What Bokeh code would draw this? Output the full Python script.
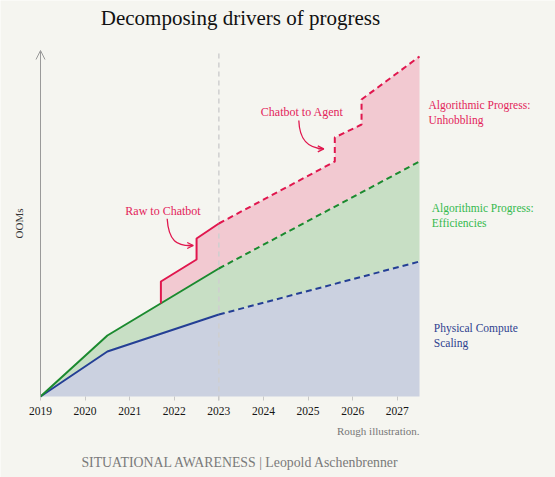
import math

from bokeh.plotting import figure
from bokeh.models import Range1d, FixedTicker, Label, Arrow, OpenHead
from bokeh.embed import file_html
from bokeh.resources import INLINE

# --- data (OOMs, rough illustration) ---------------------------------------
years = [2019, 2020.5, 2023, 2027.5]
compute = [0, 4.5, 8.2, 13.5]          # physical compute scaling
efficiencies = [0, 6.1, 12.8, 23.5]    # compute + algorithmic efficiencies
unhob_x = [2021.7, 2021.7, 2022.5, 2022.5, 2023.0, 2025.6, 2025.6, 2026.2, 2026.2, 2027.5]
unhob_y = [9.3, 11.5, 13.7, 15.8, 17.3, 23.5, 25.9, 27.2, 29.7, 34.0]
tick_years = list(range(2019, 2028))
split_year = 2023                      # history (solid) vs. projection (dashed)
axis_top = 34.6                        # tip of the OOMs arrow

FONT = "Liberation Serif"
BG = "#f5f5f0"
RED, RED_FILL, RED_TEXT = "#e0174e", "#f2c9d1", "#e3245a"
GREEN, GREEN_FILL, GREEN_TEXT = "#1b8a2f", "#c8dfc5", "#34b94d"
BLUE, BLUE_FILL, BLUE_TEXT = "#243f95", "#cbd1e0", "#2e3f8f"

# the frame covers the whole canvas; the x axis is pinned at OOMs = 0
W, H = 555, 477
PX_PER_YEAR, PX_PER_OOM = 44.59, 10.0
LEFT_PAD, BASE_PX = 40, 396
x0 = years[0] - LEFT_PAD / PX_PER_YEAR
x1 = x0 + W / PX_PER_YEAR
y1 = BASE_PX / PX_PER_OOM
y0 = y1 - H / PX_PER_OOM

p = figure(width=W, height=H, output_backend="svg", toolbar_location=None,
           x_range=Range1d(x0, x1), y_range=Range1d(y0, y1),
           min_border=0)
p.background_fill_color = BG
p.border_fill_color = BG
p.outline_line_color = None
p.grid.visible = False
p.yaxis.visible = False

xa = p.xaxis[0]
xa.fixed_location = 0
xa.ticker = FixedTicker(ticks=tick_years)
xa.axis_line_color = None
xa.major_tick_line_color = "#c8c8c8"
xa.major_tick_in = 0
xa.major_tick_out = 4
xa.minor_tick_line_color = None
xa.major_label_standoff = 6
xa.major_label_text_font = FONT
xa.major_label_text_font_size = "11.5px"
xa.major_label_text_color = "#151515"

# --- stacked bands -----------------------------------------------------------
p.patch(years + [years[-1], years[0]], compute + [0, 0],
        fill_color=BLUE_FILL, line_color=None)
p.patch(years + years[::-1], efficiencies + compute[::-1],
        fill_color=GREEN_FILL, line_color=None)
back = [(x, y) for x, y in zip(years[::-1], efficiencies[::-1]) if x > unhob_x[0]]
p.patch(unhob_x + [b[0] for b in back], unhob_y + [b[1] for b in back],
        fill_color=RED_FILL, line_color=None)

# "today" marker
p.segment(x0=[split_year], y0=[-0.4], x1=[split_year], y1=[axis_top],
          line_color="#cfcfcf", line_width=1.5, line_dash="5 4")


def draw(xs, ys, color):
    k = xs.index(split_year)
    p.line(xs[:k + 1], ys[:k + 1], line_color=color, line_width=2)
    p.line(xs[k:], ys[k:], line_color=color, line_width=2, line_dash="6 4")


draw(years, compute, BLUE)
draw(years, efficiencies, GREEN)
draw(unhob_x, unhob_y, RED)

# y axis arrow
p.add_layout(Arrow(x_start=years[0], y_start=0, x_end=years[0], y_end=axis_top,
                   line_color="#9a9a9a", line_width=1,
                   end=OpenHead(size=9, line_color="#9a9a9a", line_width=1)))

# --- annotations -------------------------------------------------------------
p.bezier(x0=[2021.841], y0=[17.77], x1=[2022.425], y1=[15.1],
         cx0=[2021.871], cy0=[15.6], cx1=[2022.05], cy1=[15.0],
         line_color=RED, line_width=1.3)
p.add_layout(Arrow(x_start=2022.30, y_start=15.1, x_end=2022.425, y_end=15.1,
                   line_color=RED, line_width=1.3,
                   end=OpenHead(size=6, line_color=RED, line_width=1.3)))
p.bezier(x0=[2024.793], y0=[27.6], x1=[2025.353], y1=[24.77],
         cx0=[2024.808], cy0=[25.8], cx1=[2024.965], cy1=[24.8],
         line_color=RED, line_width=1.3)
p.add_layout(Arrow(x_start=2025.23, y_start=24.77, x_end=2025.353, y_end=24.77,
                   line_color=RED, line_width=1.3,
                   end=OpenHead(size=6, line_color=RED, line_width=1.3)))


def label(x, y, text, color, size, align="left", baseline="alphabetic", angle=0):
    p.add_layout(Label(x=x, y=y, text=text, text_color=color, text_font=FONT,
                       text_font_size=size, text_align=align,
                       text_baseline=baseline, angle=angle))


label(2023.485, 37.85, "Decomposing drivers of progress", "#111111", "21px", "center")
label(2021.747, 18.55, "Raw to Chatbot", RED_TEXT, "12px", "center")
label(2024.869, 28.5, "Chatbot to Agent", RED_TEXT, "12px", "center")
label(2027.70, 29.2, "Algorithmic Progress:", RED_TEXT, "11.5px")
label(2027.70, 27.7, "Unhobbling", RED_TEXT, "11.5px")
label(2027.775, 18.9, "Algorithmic Progress:", GREEN_TEXT, "11.5px")
label(2027.775, 17.35, "Efficiencies", GREEN_TEXT, "11.5px")
label(2027.82, 6.9, "Physical Compute", BLUE_TEXT, "11.5px")
label(2027.82, 5.4, "Scaling", BLUE_TEXT, "11.5px")
label(2018.507, 17.3, "OOMs", "#333333", "11px", "center", "middle", math.pi / 2)

# notes under the axis
label(2027.5, -3.4, "Rough illustration.", "#777777", "11px", "right")
label(2023.485, -6.6, "SITUATIONAL AWARENESS | Leopold Aschenbrenner", "#7a7a7a",
      "13.8px", "center")

open("out.html", "w").write(file_html(p, INLINE))
